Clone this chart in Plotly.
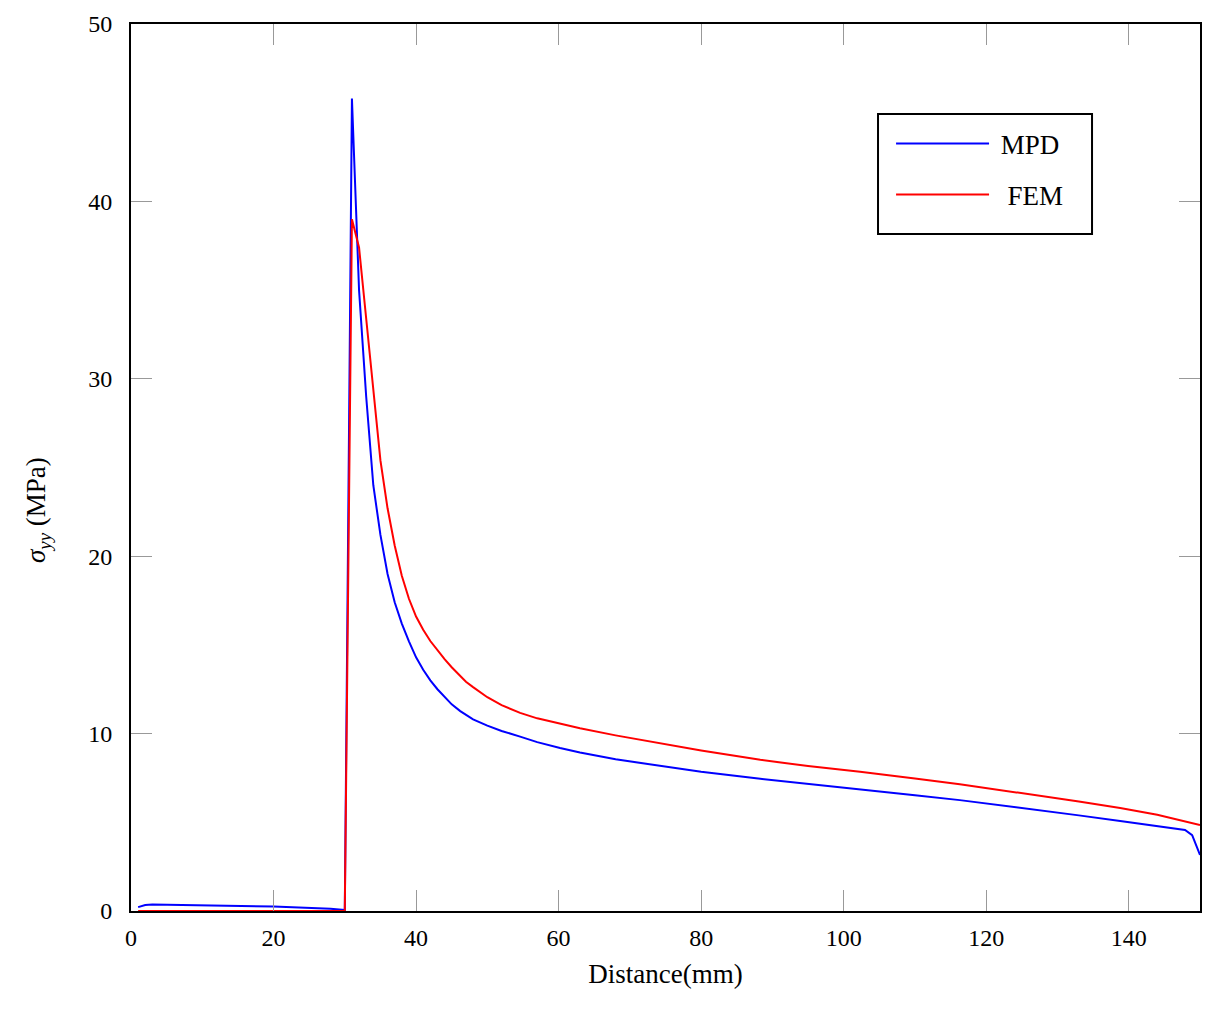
import plotly.graph_objects as go

# MPD series
mpd_x = [1, 2, 3, 10, 20, 28, 29.5, 30, 31, 32, 33, 34, 35, 36, 37, 38, 39, 40, 41, 42, 43, 44,
         45, 46.2, 48, 50, 52, 54.6, 57, 60.2, 63, 68, 74.2, 80, 88.3, 95, 102.3, 105.1, 110,
         116.3, 122, 127.5, 133, 138.8, 144, 147.9, 148.9, 150]
mpd_y = [0.22, 0.34, 0.37, 0.33, 0.25, 0.13, 0.06, 0.05, 45.8, 35.0, 29.0, 24.0, 21.2, 19.0,
         17.4, 16.2, 15.2, 14.3, 13.6, 13.0, 12.5, 12.05, 11.65, 11.27, 10.8, 10.45, 10.15, 9.83,
         9.52, 9.19, 8.94, 8.55, 8.17, 7.85, 7.45, 7.15, 6.86, 6.73, 6.52, 6.25, 5.97, 5.69,
         5.39, 5.07, 4.78, 4.57, 4.28, 3.16]

# FEM series
fem_x = [1, 10, 20, 30, 31, 32, 33, 34, 35, 36, 37, 38, 39, 40, 41, 42, 43, 44, 45, 46.2, 47,
         48, 50, 52, 54.6, 57, 60.2, 63, 68, 74.2, 80, 88.3, 95, 102.3, 105.1, 110, 116.3, 122,
         127.5, 133, 138.8, 144, 150]
fem_y = [0.0, 0.0, 0.0, 0.0, 39.0, 37.4, 33.4, 29.3, 25.4, 22.7, 20.6, 18.9, 17.6, 16.6, 15.85,
         15.22, 14.68, 14.2, 13.74, 13.22, 12.92, 12.62, 12.05, 11.6, 11.17, 10.86, 10.55, 10.3,
         9.9, 9.47, 9.05, 8.52, 8.17, 7.85, 7.72, 7.47, 7.15, 6.83, 6.5, 6.17, 5.8, 5.42, 4.85]

x_ticks = [0, 20, 40, 60, 80, 100, 120, 140]
y_ticks = [0, 10, 20, 30, 40, 50]

FONT = "Liberation Serif"
NB = "\u00a0"

fig = go.Figure()
fig.add_trace(go.Scatter(x=mpd_x, y=mpd_y, mode="lines", name=NB + "MPD",
                         line=dict(color="#0000ff", width=2), legendgroup="a"))
fig.add_trace(go.Scatter(x=fem_x, y=fem_y, mode="lines", name=NB * 2 + "FEM",
                         line=dict(color="#ff0000", width=2), legendgroup="b"))

axis_common = dict(showline=True, linecolor="black", linewidth=2, mirror="ticks",
                   ticks="inside", ticklen=21, tickcolor="#999999", tickwidth=1,
                   showgrid=False, zeroline=False,
                   tickfont=dict(family=FONT, size=24, color="black"))

fig.update_xaxes(range=[0, 150], tickvals=x_ticks, ticklabelstandoff=4,
                 title=dict(text="Distance(mm)", font=dict(family=FONT, size=27, color="black"),
                            standoff=14),
                 **axis_common)
fig.update_yaxes(range=[0, 50], tickvals=y_ticks, ticklabelstandoff=12,
                 **axis_common)

# y-axis label
fig.add_annotation(text="<i>σ<sub>yy</sub></i> (MPa)", textangle=-90,
                   xref="paper", yref="paper", x=-0.087, y=0.452,
                   xanchor="center", yanchor="middle", showarrow=False,
                   font=dict(family=FONT, size=27, color="black"))

# legend frame
fig.add_shape(type="rect", xref="paper", yref="paper",
              x0=0.6988, x1=0.899, y0=0.7633, y1=0.8985,
              line=dict(color="black", width=2), fillcolor="rgba(0,0,0,0)", layer="above")

fig.update_layout(
    width=1216, height=1029,
    margin=dict(l=131, r=16, t=24, b=118),
    plot_bgcolor="white", paper_bgcolor="white",
    font=dict(family=FONT, size=24, color="black"),
    legend=dict(x=0.7110, y=0.8925, xanchor="left", yanchor="top",
                borderwidth=0, bgcolor="rgba(0,0,0,0)",
                font=dict(family=FONT, size=27), itemwidth=93,
                traceorder="grouped", tracegroupgap=13),
)

fig.write_html("out.html")
